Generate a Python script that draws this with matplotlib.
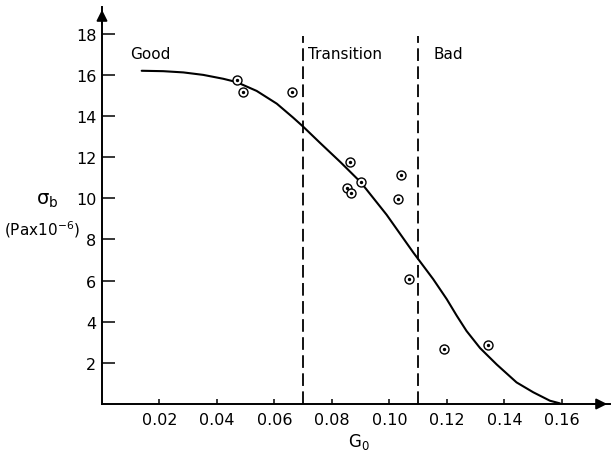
import numpy as np
import matplotlib
matplotlib.use("Agg")
import matplotlib.pyplot as plt

# measured points (G0, sigma_b in Pa x 10^-6)
g0_pts = [0.0471, 0.0491, 0.0661, 0.0863, 0.0900, 0.0853, 0.0866,
          0.1041, 0.1031, 0.1067, 0.1191, 0.1343]
sig_pts = [15.74, 15.18, 15.16, 11.76, 10.81, 10.49, 10.24,
           11.12, 9.98, 6.07, 2.67, 2.85]

# fitted curve
g0_fit = [0.0138, 0.0213, 0.0283, 0.0352, 0.0422, 0.0468, 0.0538, 0.0608,
          0.0665, 0.0700, 0.0758, 0.0830, 0.0900, 0.0990, 0.1083, 0.1152,
          0.1199, 0.1234, 0.1268, 0.1315, 0.1373, 0.1442, 0.1500, 0.1558,
          0.1593]
sig_fit = [16.20, 16.18, 16.12, 16.00, 15.81, 15.65, 15.22, 14.60,
           13.92, 13.48, 12.70, 11.75, 10.78, 9.20, 7.36, 6.07,
           5.10, 4.29, 3.55, 2.72, 1.92, 1.05, 0.57, 0.16,
           0.03]

# boundaries between regions
bounds = [0.07, 0.11]
regions = ["Good", "Transition", "Bad"]
region_x = [0.0098, 0.0715, 0.1153]

xticks = [0.02, 0.04, 0.06, 0.08, 0.10, 0.12, 0.14, 0.16]
xticklabels = ["0.02", "0.04", "0.06", "0.08", "0.10", "0.12", "0.14", "0.16"]
yticks = [2, 4, 6, 8, 10, 12, 14, 16, 18]

plt.rcParams['font.family'] = ['DejaVu Sans']

fig = plt.figure(figsize=(6.11, 4.56), dpi=100)
ax = fig.add_axes([102/611, 51/456, 508/611, 397/456])

ax.set_xlim(0, 0.1767)
ax.set_ylim(0, 19.3)

ax.plot(g0_fit, sig_fit, color='black', lw=1.5, solid_capstyle='round',
        solid_joinstyle='round')

for b in bounds:
    ax.plot([b, b], [0, 17.9], color='black', lw=1.3, dashes=(7, 3))

ax.scatter(g0_pts, sig_pts, s=42, facecolors='white', edgecolors='black',
           linewidths=1.0, zorder=3)
ax.scatter(g0_pts, sig_pts, s=2, color='black', zorder=4)

for name, xr in zip(regions, region_x):
    ax.text(xr, 17.05, name, fontsize=11, ha='left', va='center')

for s in ['top', 'right']:
    ax.spines[s].set_visible(False)
for s in ['left', 'bottom']:
    ax.spines[s].set_linewidth(1.4)

ax.set_xticks(xticks)
ax.set_xticklabels(xticklabels)
ax.set_yticks(yticks)
ax.tick_params(axis='y', direction='in', length=9, width=1.1, pad=4, labelsize=11.5)
ax.tick_params(axis='x', direction='in', length=3.5, width=1.1, pad=6, labelsize=11.5)

# arrow heads on the axes
ax.annotate('', xy=(0, 1.0), xytext=(0, 0.95), xycoords='axes fraction',
            arrowprops=dict(arrowstyle='-|>', color='black', lw=1.4, mutation_scale=16))
ax.annotate('', xy=(1.0, 0), xytext=(0.96, 0), xycoords='axes fraction',
            arrowprops=dict(arrowstyle='-|>', color='black', lw=1.4, mutation_scale=16))

fig.text(47/611, 1 - 200/456, r'σ$_\mathrm{b}$', fontsize=14, ha='center', va='center')
fig.text(4/611, 1 - 230/456, r'(Pax10$^{-6}$)', fontsize=11, ha='left', va='center')
fig.text(359/611, 1 - 442/456, r'G$_\mathrm{0}$', fontsize=12, ha='center', va='center')

fig.savefig('out.png', dpi=100)
